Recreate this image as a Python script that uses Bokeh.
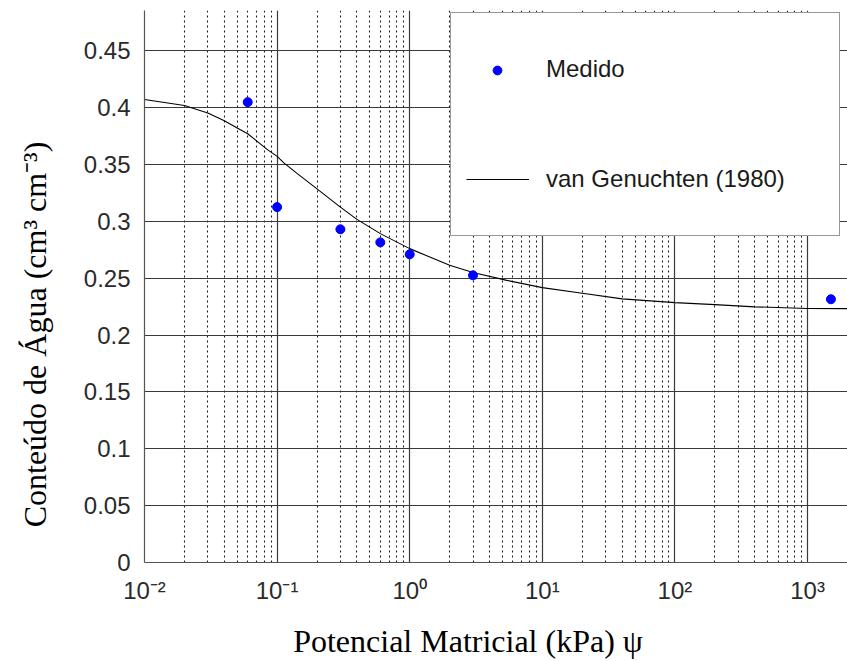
from bokeh.plotting import figure
from bokeh.models import Range1d, FixedTicker, Legend, LegendItem
from bokeh.embed import file_html
from bokeh.resources import INLINE

# measured points
psi_measured = [0.06, 0.1, 0.3, 0.6, 1.0, 3.0, 1500]
theta_measured = [0.4048, 0.3125, 0.293, 0.2815, 0.271, 0.2525, 0.2315]

# van Genuchten (1980) fitted curve
psi_curve = [0.01, 0.02, 0.03, 0.04, 0.05, 0.06, 0.07, 0.085, 0.1, 0.113, 0.142, 0.2, 0.3,
             0.4, 0.6, 1.0, 2.0, 3.0, 5.4, 10, 20, 40, 100, 200, 400, 1000, 2000]
theta_curve = [0.4072, 0.4019, 0.3952, 0.3885, 0.3820, 0.3770, 0.3708, 0.3628, 0.3571,
               0.3512, 0.3419, 0.3285, 0.3125, 0.3017, 0.2892, 0.2760, 0.2613, 0.2550,
               0.2481, 0.2417, 0.2368, 0.2318, 0.2285, 0.2268, 0.2248, 0.2234, 0.2232]

x_major_ticks = [0.01, 0.1, 1, 10, 100, 1000]
x_tick_labels = ["10\u207b\u00b2", "10\u207b\u00b9", "10\u2070", "10\u00b9", "10\u00b2", "10\u00b3"]
x_minor_ticks = [m * d for d in x_major_ticks for m in range(2, 10)]

y_ticks = [0, 0.05, 0.1, 0.15, 0.2, 0.25, 0.3, 0.35, 0.4, 0.45]
y_tick_labels = ["0", "0.05", "0.1", "0.15", "0.2", "0.25", "0.3", "0.35", "0.4", "0.45"]

x_label = "Potencial Matricial (kPa) \u03c8"
y_label = "Conte\u00fado de \u00c1gua (cm\u00b3 cm\u207b\u00b3)"
legend_labels = ["Medido", "van Genuchten (1980)"]

NBSP = "\u00a0"

p = figure(width=847, height=661, x_axis_type="log",
           x_range=Range1d(0.01, 2000), y_range=Range1d(0, 0.4854),
           output_backend="svg", toolbar_location=None,
           min_border_left=144, min_border_right=0, min_border_top=10, min_border_bottom=99)
p.outline_line_color = None
p.background_fill_color = "white"
p.border_fill_color = "white"

xt = FixedTicker(ticks=x_major_ticks, minor_ticks=x_minor_ticks)
yt = FixedTicker(ticks=y_ticks, minor_ticks=[])
p.xaxis.ticker = xt
p.yaxis.ticker = yt
p.xgrid.ticker = xt
p.ygrid.ticker = yt

for ax in (p.xaxis[0], p.yaxis[0]):
    ax.axis_line_color = "#555555"
    ax.axis_line_width = 1.2
    ax.major_tick_out = 0
    ax.major_tick_in = 0
    ax.minor_tick_out = 0
    ax.minor_tick_in = 0
    ax.major_label_text_font = "Liberation Sans"
    ax.major_label_text_font_size = "24px"
    ax.major_label_text_color = "#2a2a2a"
    ax.major_label_standoff = 14
    ax.axis_label_text_font = "Liberation Serif"
    ax.axis_label_text_font_size = "32px"
    ax.axis_label_text_font_style = "normal"
    ax.axis_label_text_color = "black"

p.xaxis.major_label_overrides = {t: l for t, l in zip(x_major_ticks, x_tick_labels)}
p.yaxis.major_label_overrides = {t: l for t, l in zip(y_ticks, y_tick_labels)}

# the reference labels sit off-centre; trailing no-break spaces shift them
p.xaxis.axis_label = x_label + NBSP * 7
p.xaxis.axis_label_standoff = 16
p.yaxis.axis_label = y_label + NBSP * 12
p.yaxis.axis_label_standoff = 28

for g in (p.xgrid[0], p.ygrid[0]):
    g.grid_line_color = "#3a3a3a"
    g.grid_line_width = 1.2
    g.grid_line_alpha = 1.0
p.xgrid.minor_grid_line_color = "#1a1a1a"
p.xgrid.minor_grid_line_dash = "2 3"
p.xgrid.minor_grid_line_width = 1.1

curve = p.line(psi_curve, theta_curve, line_color="black", line_width=1.1)
pts = p.scatter(psi_measured, theta_measured, size=9, marker="circle",
                fill_color="#0000ff", line_color="#0000ff")
# invisible stand-in so the boxed legend can reserve the "Medido" row
ghost = p.scatter(psi_measured, theta_measured, size=0, marker="circle",
                  fill_alpha=0, line_alpha=0)

legend = Legend(items=[LegendItem(label=legend_labels[0], renderers=[ghost]),
                       LegendItem(label=legend_labels[1], renderers=[curve])],
                location=(306, 326), padding=15, spacing=28,
                glyph_width=63, glyph_height=82, label_height=82, label_width=278,
                label_standoff=17, margin=0,
                label_text_font="Liberation Sans", label_text_font_size="24px",
                label_text_color="#1a1a1a",
                border_line_color="#333333", border_line_width=1.3,
                background_fill_color="white", background_fill_alpha=1.0)
p.add_layout(legend, "center")

dot_legend = Legend(items=[LegendItem(label=" ", renderers=[pts])],
                    location=(342, 481), padding=0, spacing=0, margin=0,
                    glyph_width=22, glyph_height=22, label_height=22, label_width=0,
                    label_standoff=0, label_text_font_size="6px",
                    border_line_color=None, background_fill_alpha=0)
p.add_layout(dot_legend, "center")

open("out.html", "w").write(file_html(p, INLINE))
